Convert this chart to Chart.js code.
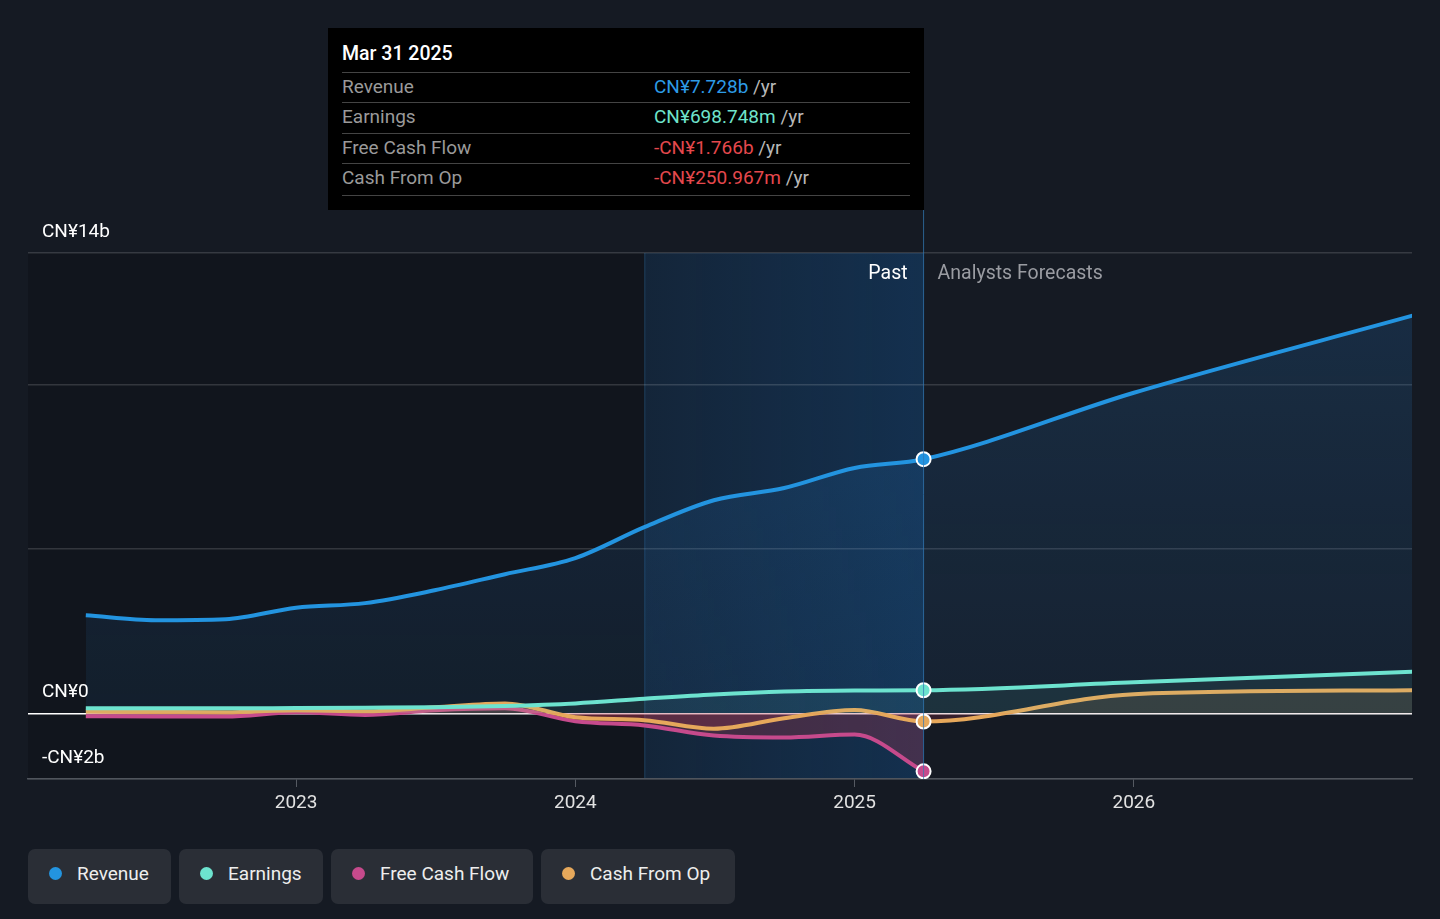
<!DOCTYPE html>
<html>
<head>
<meta charset="utf-8">
<script src="https://cdn.jsdelivr.net/npm/chart.js@4.4.1/dist/chart.umd.min.js"></script>
<style>
  html, body { margin: 0; padding: 0; background: #151a23; font-family: Roboto, "Noto Sans", sans-serif; }
  #wrap { position: relative; width: 1440px; height: 919px; overflow: hidden; }
  #box { position: absolute; left: 0; top: 0; width: 1440px; height: 830px; }
  .tip { position: absolute; left: 328px; top: 28px; width: 596px; height: 182px; background: #000; }
  .tip .ttl { position: absolute; left: 14px; top: 14px; color: #fff; font-size: 19.5px; font-weight: 500; }
  .tip .row { position: absolute; left: 14px; width: 568px; height: 30px; border-top: 1px solid #444; font-size: 19px; line-height: 28px; }
  .tip .lab { position: absolute; left: 0; color: #9a9a9a; }
  .tip .val { position: absolute; left: 312px; }
  .tip .unit { color: #b8b8b8; }
  .tip .end { position: absolute; left: 14px; width: 568px; top: 167px; border-top: 1px solid #444; }
  .legend { position: absolute; top: 849px; left: 28px; display: flex; gap: 8px; }
  .pill { box-sizing: border-box; height: 55px; background: #2a2e36; border-radius: 7px; display: flex; align-items: center; padding: 0 0 7px 21px; color: #eee; font-size: 19px; }
  .dot { width: 13px; height: 13px; border-radius: 50%; margin-right: 15px; }
</style>
</head>
<body>
<div id="wrap">
  <div id="box"><canvas id="c"></canvas></div>
  <div class="tip">
    <div class="ttl">Mar 31 2025</div>
    <div class="row" style="top:44px"><span class="lab">Revenue</span><span class="val"><span style="color:#2d9be6">CN¥7.728b</span> <span class="unit">/yr</span></span></div>
    <div class="row" style="top:74px"><span class="lab">Earnings</span><span class="val"><span style="color:#6fe3cc">CN¥698.748m</span> <span class="unit">/yr</span></span></div>
    <div class="row" style="top:105px"><span class="lab">Free Cash Flow</span><span class="val"><span style="color:#e5484d">-CN¥1.766b</span> <span class="unit">/yr</span></span></div>
    <div class="row" style="top:135px"><span class="lab">Cash From Op</span><span class="val"><span style="color:#e5484d">-CN¥250.967m</span> <span class="unit">/yr</span></span></div>
    <div class="end"></div>
  </div>
  <div class="legend">
    <div class="pill" style="width:143px"><span class="dot" style="background:#2394e0"></span>Revenue</div>
    <div class="pill" style="width:144px"><span class="dot" style="background:#6de3cf"></span>Earnings</div>
    <div class="pill" style="width:202px"><span class="dot" style="background:#c64a8c"></span>Free Cash Flow</div>
    <div class="pill" style="width:194px"><span class="dot" style="background:#e6a85b"></span>Cash From Op</div>
  </div>
</div>
<script>
// quarter ends as decimal years
const pastDates = [2022.247, 2022.496, 2022.748, 2023.0, 2023.247, 2023.496, 2023.748, 2024.0, 2024.247, 2024.496, 2024.748, 2025.0, 2025.247];
const forecastDates = [2026.0, 2027.0];

// values in CN¥ billions
const revenuePast = [2.98, 2.83, 2.86, 3.21, 3.35, 3.74, 4.23, 4.72, 5.66, 6.48, 6.85, 7.46, 7.728];
const revenueForecast = [9.75, 12.1];
const earningsPast = [0.15, 0.15, 0.15, 0.16, 0.17, 0.18, 0.22, 0.30, 0.44, 0.57, 0.66, 0.69, 0.699];
const earningsForecast = [0.94, 1.26];
const fcfPast = [-0.09, -0.10, -0.10, 0.03, -0.05, 0.09, 0.15, -0.24, -0.37, -0.68, -0.74, -0.65, -1.766];
const cfoPast = [0.05, 0.04, 0.03, 0.09, 0.06, 0.18, 0.30, -0.12, -0.21, -0.47, -0.15, 0.10, -0.251];
const cfoForecast = [0.58, 0.70];

const yTicks = [-2, 0, 5, 10, 14];
const yTickLabels = { '-2': '-CN¥2b', '0': 'CN¥0', '14': 'CN¥14b' };
const xTicks = [2023, 2024, 2025, 2026];
const pastEnd = 2025.247;
const bandStart = 2024.247;

function pts(dates, vals) { return vals.map((v, i) => ({ x: dates[i], y: v })); }
const lastIdx = pastDates.length - 1;
const marker = ctx => ctx.dataIndex === lastIdx ? 7 : 0;

function series(label, color, data, fill, order) {
  return {
    label, data, order,
    borderColor: color, backgroundColor: color,
    borderWidth: 4, fill,
    cubicInterpolationMode: 'monotone',
    pointRadius: marker, pointHoverRadius: marker,
    pointBackgroundColor: color, pointBorderColor: '#fff', pointBorderWidth: 2
  };
}

function revenueFill(ctx) {
  const a = ctx.chart.chartArea;
  if (!a) return 'rgba(35,110,180,0.16)';
  const g = ctx.chart.ctx.createLinearGradient(0, a.top, 0, ctx.chart.scales.y.getPixelForValue(0));
  g.addColorStop(0, 'rgba(40,120,195,0.22)');
  g.addColorStop(1, 'rgba(35,105,170,0.11)');
  return g;
}

const bgPlugin = {
  id: 'bg',
  beforeDraw(chart) {
    const { ctx, chartArea: a, scales: { x } } = chart;
    const b0 = x.getPixelForValue(bandStart), b1 = x.getPixelForValue(pastEnd);
    ctx.save();
    ctx.fillStyle = 'rgba(0,0,0,0.16)';
    ctx.fillRect(a.left, a.top, b0 - a.left, a.bottom - a.top);
    const g = ctx.createLinearGradient(b0, 0, b1, 0);
    g.addColorStop(0, 'rgba(18,85,150,0.2)');
    g.addColorStop(1, 'rgba(18,85,150,0.38)');
    ctx.fillStyle = g;
    ctx.fillRect(b0, a.top, b1 - b0, a.bottom - a.top);
    ctx.strokeStyle = 'rgba(40,90,130,0.5)';
    ctx.lineWidth = 1;
    ctx.beginPath(); ctx.moveTo(b0 + 0.5, a.top); ctx.lineTo(b0 + 0.5, a.bottom); ctx.stroke();
    ctx.restore();
  },
  afterDraw(chart) {
    const { ctx, chartArea: a, scales: { x, y } } = chart;
    const px = x.getPixelForValue(pastEnd);
    ctx.save();
    ctx.strokeStyle = 'rgba(50,120,180,0.75)';
    ctx.lineWidth = 1;
    ctx.beginPath(); ctx.moveTo(px, 210); ctx.lineTo(px, a.bottom); ctx.stroke();
    ctx.font = '19.5px Roboto';
    ctx.textBaseline = 'middle';
    ctx.textAlign = 'right';
    ctx.fillStyle = '#ffffff';
    ctx.fillText('Past', px - 16, a.top + 21);
    ctx.textAlign = 'left';
    ctx.fillStyle = '#9a9ca2';
    ctx.fillText('Analysts Forecasts', px + 14, a.top + 21);
    ctx.fillStyle = '#ffffff';
    ctx.font = '19px Roboto';
    Object.keys(yTickLabels).forEach(k => {
      ctx.fillText(yTickLabels[k], 42, y.getPixelForValue(Number(k)) - 21);
    });
    ctx.restore();
  }
};

new Chart(document.getElementById('c'), {
  type: 'line',
  data: {
    datasets: [
      series('Revenue', '#2394e0', pts(pastDates.concat(forecastDates), revenuePast.concat(revenueForecast)),
        { target: 'origin', above: revenueFill, below: revenueFill }, 4),
      series('Earnings', '#6de3cf', pts(pastDates.concat(forecastDates), earningsPast.concat(earningsForecast)),
        { target: 'origin', above: 'rgba(109,227,207,0.08)', below: 'rgba(200,60,80,0.25)' }, 1),
      series('Free Cash Flow', '#c64a8c', pts(pastDates, fcfPast),
        { target: 'origin', above: 'rgba(198,74,140,0.12)', below: 'rgba(190,55,80,0.28)' }, 3),
      series('Cash From Op', '#e6a85b', pts(pastDates.concat(forecastDates), cfoPast.concat(cfoForecast)),
        { target: 'origin', above: 'rgba(230,168,91,0.13)', below: 'rgba(190,55,80,0.2)' }, 2)
    ]
  },
  options: {
    responsive: true,
    maintainAspectRatio: false,
    animation: false,
    layout: { padding: { left: 28, right: 28, top: 253, bottom: 0 } },
    plugins: { legend: { display: false }, tooltip: { enabled: false } },
    scales: {
      x: {
        type: 'linear', min: 2022.04, max: 2026.996,
        afterBuildTicks: s => { s.ticks = xTicks.map(v => ({ value: v })); },
        afterFit: s => { s.height = 51; },
        ticks: { color: '#e2e2e2', font: { family: 'Roboto', size: 19 }, padding: 5, maxRotation: 0, callback: v => String(v) },
        grid: { drawOnChartArea: false, drawTicks: true, tickLength: 8, tickColor: '#555a62' },
        border: { display: true, color: '#50555d', width: 1.5 }
      },
      y: {
        min: -2, max: 14,
        afterBuildTicks: s => { s.ticks = yTicks.map(v => ({ value: v })); },
        afterFit: s => { s.width = 0; },
        ticks: { display: false },
        grid: {
          drawTicks: false,
          color: c => c.tick && c.tick.value === 0 ? '#ffffff' : 'rgba(255,255,255,0.14)',
          lineWidth: 1.5
        },
        border: { display: false }
      }
    }
  },
  plugins: [bgPlugin]
});
</script>
</body>
</html>
